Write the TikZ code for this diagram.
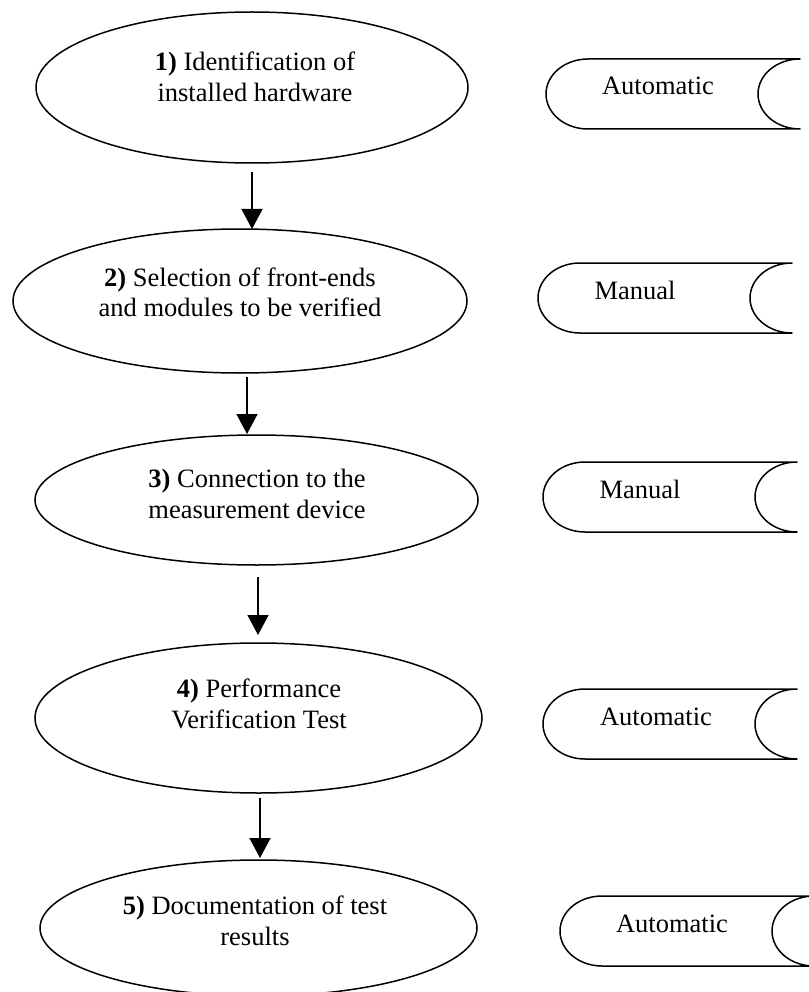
\documentclass[tikz,border=0pt]{standalone}
\usepackage{fontspec}
\setmainfont{Liberation Serif}
\usetikzlibrary{shapes.geometric,arrows.meta}
\newcommand{\datashape}[5]{% #1 name, #2 x of line start, #3 y mid, #4 text x (local), #5 text
  \begin{scope}[shift={(#2,#3)}]
    \draw[dataline] (0,-35) -- (212,-35)
      .. controls (188.8,-35) and (170,-19.3) .. (170,0)
      .. controls (170,19.3) and (188.8,35) .. (212,35)
      -- (0,35)
      .. controls (-23.2,35) and (-42,19.3) .. (-42,0)
      .. controls (-42,-19.3) and (-23.2,-35) .. cycle;
    \node[anchor=base, inner sep=0pt] (#1) at (#4,1) {#5};
  \end{scope}}
\begin{document}
\begin{tikzpicture}[x=1pt,y=-1pt,
  every node/.style={font=\fontsize{26.5}{30.5}\selectfont},
  stepell/.style={draw, ellipse, line width=1.5pt, inner sep=0pt, outer sep=0pt},
  steptext/.style={align=center, inner sep=0pt},
  flowarrow/.style={line width=1.5pt, -{Triangle[length=20pt,width=21pt]}},
  dataline/.style={line width=1.5pt, line join=round}
]
\useasboundingbox (0,0) rectangle (808,992);

% process ellipses
\node[stepell, minimum width=432pt, minimum height=151pt] (e1) at (252,87.5) {};
\node[stepell, minimum width=454pt, minimum height=144pt] (e2) at (240,301) {};
\node[stepell, minimum width=443pt, minimum height=130pt] (e3) at (256.5,500) {};
\node[stepell, minimum width=447pt, minimum height=150pt] (e4) at (258.5,718) {};
\node[stepell, minimum width=437pt, minimum height=136pt] (e5) at (258.5,928) {};

\node[steptext] (t1) at (255,77) {\textbf{1)} Identification of\\installed hardware};
\node[steptext] (t2) at (240,292.5) {\textbf{2)} Selection of front-ends\\and modules to be verified};
\node[steptext] (t3) at (257,494) {\textbf{3)} Connection to the\\measurement device};
\node[steptext] (t4) at (259,704) {\textbf{4)} Performance\\Verification Test};
\node[steptext] (t5) at (255,921) {\textbf{5)} Documentation of test\\results};

% arrows
\coordinate (a1s) at (252,172); \coordinate (a1e) at (252,229);
\coordinate (a2s) at (247,377); \coordinate (a2e) at (247,434);
\coordinate (a3s) at (258,577); \coordinate (a3e) at (258,635);
\coordinate (a4s) at (260,798); \coordinate (a4e) at (260,858);
\draw[flowarrow] (a1s) -- (a1e);
\draw[flowarrow] (a2s) -- (a2e);
\draw[flowarrow] (a3s) -- (a3e);
\draw[flowarrow] (a4s) -- (a4e);

% mode shapes
\datashape{m1}{588}{94}{70}{Automatic}
\datashape{m2}{580}{298}{55}{Manual}
\datashape{m3}{585}{497}{55}{Manual}
\datashape{m4}{585}{724}{71}{Automatic}
\datashape{m5}{602}{931}{70}{Automatic}
\end{tikzpicture}
\end{document}
